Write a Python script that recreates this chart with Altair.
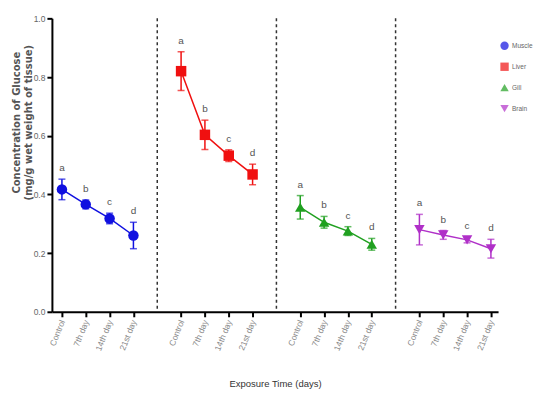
import altair as alt
import pandas as pd

tissues = ["Muscle", "Liver", "Gill", "Brain"]
days = ["Control", "7th day", "14th day", "21st day"]
letters = ["a", "b", "c", "d"]
colors = ["#1010e0", "#f01010", "#20a020", "#b030c8"]
shapes = ["circle", "square", "triangle-up", "triangle-down"]

muscle = [0.417, 0.366, 0.318, 0.26]
muscle_err = [0.035, 0.015, 0.018, 0.045]
liver = [0.82, 0.603, 0.532, 0.468]
liver_err = [0.066, 0.05, 0.02, 0.035]
gill = [0.356, 0.305, 0.275, 0.23]
gill_err = [0.04, 0.02, 0.015, 0.02]
brain = [0.28, 0.262, 0.245, 0.215]
brain_err = [0.052, 0.015, 0.01, 0.032]

values = [muscle, liver, gill, brain]
errors = [muscle_err, liver_err, gill_err, brain_err]

rows = []
for i, t in enumerate(tissues):
    for j, d in enumerate(days):
        v = values[i][j]
        e = errors[i][j]
        rows.append({"tissue": t, "day": d, "pos": 5 * i + j, "val": v,
                     "lo": v - e, "hi": v + e, "letter": letters[j]})
df = pd.DataFrame(rows)

tick_pos = [5 * i + j for i in range(4) for j in range(4)]
label_expr = "['Control','7th day','14th day','21st day'][datum.value % 5]"

sep = pd.DataFrame({"pos": [4, 9, 14]})

W, H = 447, 294
xs = alt.Scale(domain=[-0.42, 18.3], nice=False, zero=False)
ys = alt.Scale(domain=[0, 1], nice=False)
cs = alt.Scale(domain=tissues, range=colors)
ss = alt.Scale(domain=tissues, range=shapes)

leg = alt.Legend(orient="none", legendX=449, legendY=23, symbolSize=70,
                 labelFontSize=6.5, labelColor="#666666", rowPadding=12,
                 labelOffset=3, symbolStrokeWidth=0, padding=0)
col = alt.Color("tissue:N", scale=cs, title=None, legend=leg)

x_axis = alt.Axis(values=tick_pos, labelExpr=label_expr, labelAngle=292,
                  labelAlign="right", labelBaseline="middle", labelOverlap=False,
                  grid=False, titlePadding=27)
y_axis = alt.Axis(values=[0, 0.2, 0.4, 0.6, 0.8, 1.0], format=".1f", grid=False,
                  titleY=104, titlePadding=0)
x_title = "Exposure Time (days)"
y_title = ["Concentration of Glucose", "(mg/g wet weight of tissue)"]


def X():
    return alt.X("pos:Q", scale=xs, title=x_title, axis=x_axis)


def Y(field):
    return alt.Y(field + ":Q", scale=ys, title=y_title, axis=y_axis)


rules = alt.Chart(sep).mark_rule(strokeDash=[3, 3], color="#333333", strokeWidth=1.5).encode(
    x=X(), y=alt.value(0), y2=alt.value(H))

base = alt.Chart(df)

lines = base.mark_line(strokeWidth=1.5).encode(
    x=X(), y=Y("val"), color=col, detail="tissue:N")

err = base.mark_rule(strokeWidth=1.5).encode(
    x=X(), y=Y("lo"), y2="hi:Q", color=col)

cap_lo = base.mark_tick(orient="horizontal", size=7, thickness=1.5).encode(
    x=X(), y=Y("lo"), color=col)
cap_hi = base.mark_tick(orient="horizontal", size=7, thickness=1.5).encode(
    x=X(), y=Y("hi"), color=col)

pts = base.mark_point(filled=True, size=110, opacity=1).encode(
    x=X(), y=Y("val"),
    color=col, shape=alt.Shape("tissue:N", scale=ss, title=None, legend=leg))

txt = base.mark_text(fontSize=10, color="#555555", dy=-6, baseline="bottom",
                     font="Liberation Sans").encode(
    x=X(), y=Y("hi"), text="letter:N")

chart = alt.layer(rules, lines, err, cap_lo, cap_hi, pts, txt).properties(
    width=W, height=H, padding={"left": 3, "top": 6, "right": 0, "bottom": 0}
).configure_view(stroke=None).configure_axis(
    domainColor="black", domainWidth=2, tickColor="black", tickWidth=2, tickSize=5,
    labelColor="#666666", labelFont="Liberation Sans", labelFontSize=8.5,
    titleColor="#555555", titleFont="DejaVu Sans", labelOverlap=False
).configure_axisY(titleFontSize=10, titleFontWeight="bold", labelPadding=2
).configure_axisX(labelFontSize=8.5, titleFontSize=9.5, titleFontWeight="normal",
                  titleFont="Liberation Sans", titleColor="#333333", labelPadding=3,
                  labelColor="#888888"
).configure_legend(labelFont="Liberation Sans")

chart.save("out.html", embed_options={"renderer": "svg", "actions": False})
